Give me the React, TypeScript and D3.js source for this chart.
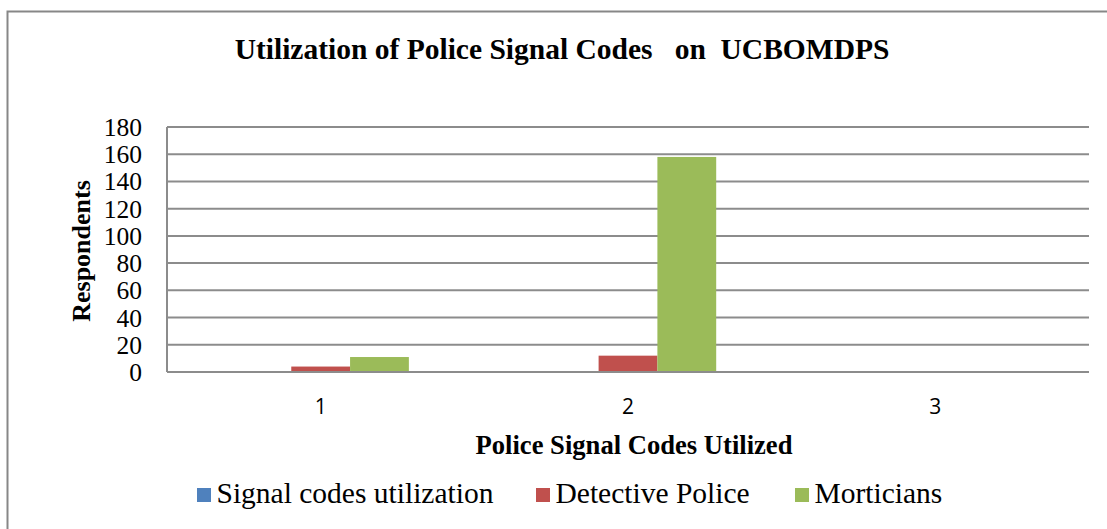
import React from "react";
import * as d3 from "d3";

const categories = ["1", "2", "3"];
const seriesNames = ["Signal codes utilization", "Detective Police", "Morticians"];
const signalCodes = [0, 0, 0];
const detectivePolice = [4, 12, 0];
const morticians = [11, 158, 0];
const yTicks = [0, 20, 40, 60, 80, 100, 120, 140, 160, 180];
const colors = ["#4F81BD", "#C0504D", "#9BBB59"];

export default function App() {
  const W = 1107, H = 529;
  const left = 167, right = 1089, top = 127, bottom = 372;
  const series = [signalCodes, detectivePolice, morticians];

  const x = d3.scaleBand<string>().domain(categories).range([left, right]).paddingInner(0).paddingOuter(0);
  const y = d3.scaleLinear().domain([0, 180]).range([bottom, top]);
  const barW = 58.8;
  const groupW = barW * 3;

  const serif = "'Liberation Serif', 'Times New Roman', serif";
  const legendItems = [
    { x: 197, name: seriesNames[0] },
    { x: 536, name: seriesNames[1] },
    { x: 795, name: seriesNames[2] },
  ];

  return (
    <svg width={W} height={H} style={{ position: "absolute", left: 0, top: 0, background: "#fff" }}>
      <rect x={7.5} y={11.5} width={W + 20} height={H + 20} fill="none" stroke="#878787" strokeWidth={2} />
      <text x={562} y={59} textAnchor="middle" fontFamily={serif} fontWeight="bold" fontSize={29.5}>
        {"Utilization of Police Signal Codes\u00A0\u00A0\u00A0on\u00A0\u00A0UCBOMDPS"}
      </text>
      {yTicks.map((t) => (
        <g key={t}>
          {t > 0 && (
            <line x1={left} x2={right} y1={y(t)} y2={y(t)} stroke="#8c8c8c" strokeWidth={2} />
          )}
          <text x={142} y={y(t) + 9} textAnchor="end" fontFamily={serif} fontSize={25.5}>
            {t}
          </text>
        </g>
      ))}
      {categories.map((c, ci) => {
        const cx = x(c)! + x.bandwidth() / 2;
        const x0 = cx - groupW / 2;
        return (
          <g key={c}>
            {series.map((s, si) =>
              s[ci] > 0 ? (
                <rect key={si} x={x0 + si * barW} y={y(s[ci])} width={barW} height={bottom - y(s[ci])} fill={colors[si]} />
              ) : null
            )}
            <text x={cx} y={414} textAnchor="middle" fontFamily="'Open Sans', 'Liberation Sans', sans-serif" fontSize={21}>
              {c}
            </text>
          </g>
        );
      })}
      <line x1={left} x2={right} y1={bottom} y2={bottom} stroke="#8c8c8c" strokeWidth={2} />
      <line x1={left} x2={left} y1={top} y2={bottom} stroke="#8c8c8c" strokeWidth={2} />
      <text x={634} y={454} textAnchor="middle" fontFamily={serif} fontWeight="bold" fontSize={26.6}>
        Police Signal Codes Utilized
      </text>
      <text transform={`translate(90,${251}) rotate(-90)`} textAnchor="middle" fontFamily={serif} fontWeight="bold" fontSize={26}>
        Respondents
      </text>
      {legendItems.map((l, i) => (
        <g key={i}>
          <rect x={l.x} y={488} width={14} height={14} fill={colors[i]} />
          <text x={l.x + 19.5} y={503} fontFamily={serif} fontSize={29.5}>
            {l.name}
          </text>
        </g>
      ))}
    </svg>
  );
}
